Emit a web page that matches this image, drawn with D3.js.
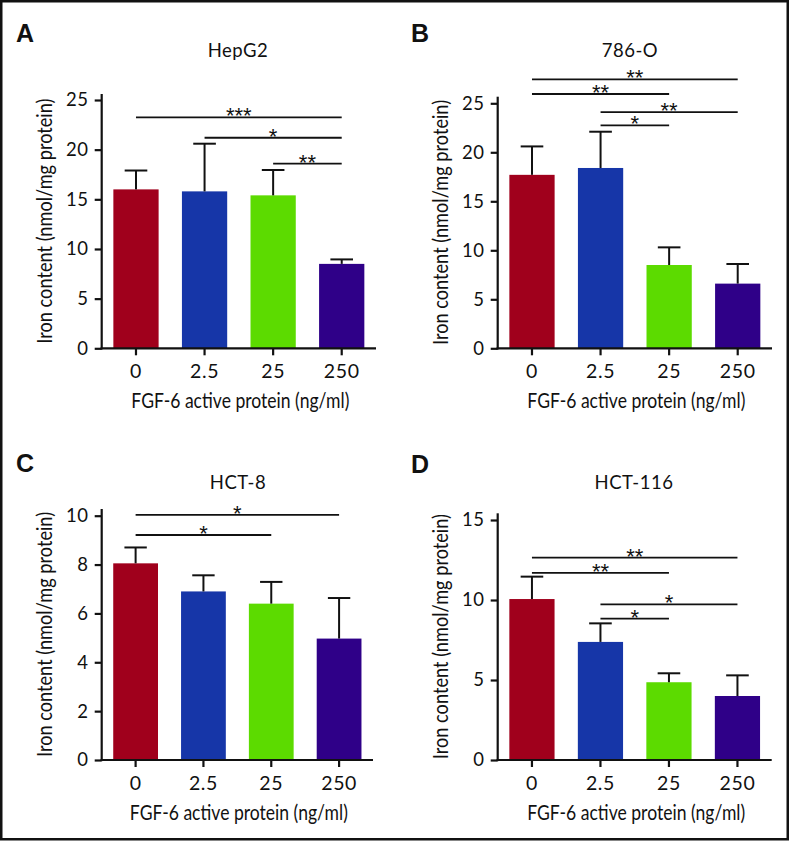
<!DOCTYPE html>
<html>
<head>
<meta charset="utf-8">
<script src="https://cdn.jsdelivr.net/npm/d3@7"></script>
<style>
  html, body { margin: 0; padding: 0; background: #fff; }
  svg { display: block; }
  text { font-family: Lato, "Open Sans", sans-serif; fill: #111; }
</style>
</head>
<body>
<svg id="chart" width="790" height="843"></svg>
<script>
// ---------- data ----------
const categories = ["0", "2.5", "25", "250"];
const barColors = ["#A0001C", "#1636A8", "#5CDB00", "#2F0088"];

const hepg2Mean = [16.0, 15.8, 15.4, 8.5];
const hepg2SD   = [1.9, 4.8, 2.55, 0.45];
const hepg2Ticks = [0, 5, 10, 15, 20, 25];
const hepg2Sig = [
  { from: 0, to: 3, y: 23.25, label: "***" },
  { from: 1, to: 3, y: 21.2,  label: "*" },
  { from: 2, to: 3, y: 18.6,  label: "**" }
];

const r786Mean = [17.7, 18.4, 8.5, 6.6];
const r786SD   = [2.9, 3.7, 1.8, 2.0];
const r786Ticks = [0, 5, 10, 15, 20, 25];
const r786Sig = [
  { from: 0, to: 3, y: 27.45, label: "**" },
  { from: 0, to: 2, y: 25.95, label: "**" },
  { from: 1, to: 3, y: 24.1,  label: "**" },
  { from: 1, to: 2, y: 22.75, label: "*" }
];

const hct8Mean = [8.05, 6.9, 6.4, 4.97];
const hct8SD   = [0.65, 0.66, 0.89, 1.66];
const hct8Ticks = [0, 2, 4, 6, 8, 10];
const hct8Sig = [
  { from: 0, to: 3, y: 10.03, label: "*" },
  { from: 0, to: 2, y: 9.21,  label: "*" }
];

const hct116Mean = [10.06, 7.38, 4.86, 4.0];
const hct116SD   = [1.4, 1.16, 0.56, 1.29];
const hct116Ticks = [0, 5, 10, 15];
const hct116Sig = [
  { from: 0, to: 3, y: 12.65, label: "**" },
  { from: 0, to: 2, y: 11.7,  label: "**" },
  { from: 1, to: 3, y: 9.73,  label: "*" },
  { from: 1, to: 2, y: 8.83,  label: "*" }
];

const xTitle = "FGF-6 active protein (ng/ml)";
const yTitle = "Iron content (nmol/mg protein)";

// ---------- layout ----------
const panels = [
  { letter: "A", title: "HepG2",  mean: hepg2Mean,  sd: hepg2SD,  ticks: hepg2Ticks,  sig: hepg2Sig,
    left: 101.7, right: 376, bottom: 348.3, topTick: 100,   axisTop: 94,
    letterX: 16, letterY: 42, titleX: 238, titleY: 57, xTitleY: 408, yTitleX: 52 },
  { letter: "B", title: "786-O",  mean: r786Mean,   sd: r786SD,   ticks: r786Ticks,   sig: r786Sig,
    left: 497.7, right: 772, bottom: 348.3, topTick: 103.3, axisTop: 96.7,
    letterX: 411, letterY: 42, titleX: 630, titleY: 57, xTitleY: 408, yTitleX: 448 },
  { letter: "C", title: "HCT-8",  mean: hct8Mean,   sd: hct8SD,   ticks: hct8Ticks,   sig: hct8Sig,
    left: 101.7, right: 373, bottom: 760, topTick: 515.7, axisTop: 509,
    letterX: 16, letterY: 472, titleX: 238, titleY: 489, xTitleY: 820, yTitleX: 52 },
  { letter: "D", title: "HCT-116", mean: hct116Mean, sd: hct116SD, ticks: hct116Ticks, sig: hct116Sig,
    left: 497.7, right: 771.7, bottom: 760, topTick: 520, axisTop: 513.3,
    letterX: 411, letterY: 473, titleX: 634, titleY: 489, xTitleY: 820, yTitleX: 448 }
];

const svg = d3.select("#chart");

// outer frame
svg.append("rect")
  .attr("x", 1.25).attr("y", 1.25)
  .attr("width", 786.5).attr("height", 838)
  .attr("fill", "none").attr("stroke", "#111").attr("stroke-width", 2.5);

panels.forEach(p => {
  const g = svg.append("g");
  const maxTick = d3.max(p.ticks);

  const x = d3.scaleBand().domain(categories)
    .range([p.left, p.right]).paddingInner(0.34).paddingOuter(0.17);
  const y = d3.scaleLinear().domain([0, maxTick]).range([p.bottom, p.topTick]);

  // panel letter
  g.append("text").attr("x", p.letterX).attr("y", p.letterY)
    .style("font-family", "'Liberation Sans', Arial, sans-serif")
    .style("font-weight", "bold").style("font-size", "25px")
    .text(p.letter);

  // title
  g.append("text").attr("x", p.titleX).attr("y", p.titleY)
    .attr("text-anchor", "middle").style("font-size", "18.5px")
    .style("letter-spacing", "0.5px")
    .text(p.title);

  // bars
  g.selectAll("rect.bar").data(p.mean).join("rect")
    .attr("class", "bar")
    .attr("x", (d, i) => x(categories[i]))
    .attr("width", x.bandwidth())
    .attr("y", d => y(d))
    .attr("height", d => y(0) - y(d))
    .attr("fill", (d, i) => barColors[i]);

  // error bars (upper only)
  const capW = x.bandwidth() * 0.5;
  p.mean.forEach((m, i) => {
    const cx = x(categories[i]) + x.bandwidth() / 2;
    g.append("line")
      .attr("x1", cx).attr("x2", cx)
      .attr("y1", y(m)).attr("y2", y(m + p.sd[i]))
      .attr("stroke", "#111").attr("stroke-width", 2);
    g.append("line")
      .attr("x1", cx - capW / 2).attr("x2", cx + capW / 2)
      .attr("y1", y(m + p.sd[i])).attr("y2", y(m + p.sd[i]))
      .attr("stroke", "#111").attr("stroke-width", 2);
  });

  // y axis
  const yAxis = g.append("g")
    .attr("transform", `translate(${p.left},0)`)
    .call(d3.axisLeft(y).tickValues(p.ticks).tickSize(7).tickPadding(6).tickSizeOuter(0));
  yAxis.select(".domain").remove();
  yAxis.selectAll(".tick line").attr("stroke", "#111").attr("stroke-width", 2.2);
  yAxis.selectAll(".tick text")
    .style("font-family", "Lato, sans-serif")
    .style("font-size", "18.5px").style("letter-spacing", "0.6px").attr("fill", "#111");
  g.append("line")
    .attr("x1", p.left).attr("x2", p.left)
    .attr("y1", p.axisTop).attr("y2", p.bottom + 1.1)
    .attr("stroke", "#111").attr("stroke-width", 2.2);

  // x axis
  const xAxis = g.append("g")
    .attr("transform", `translate(0,${p.bottom})`)
    .call(d3.axisBottom(x).tickSize(7).tickPadding(9).tickSizeOuter(0));
  xAxis.select(".domain").remove();
  xAxis.selectAll(".tick line").attr("stroke", "#111").attr("stroke-width", 2.2);
  xAxis.selectAll(".tick text")
    .style("font-family", "Lato, sans-serif")
    .style("font-size", "19.5px").style("letter-spacing", "0.6px").attr("fill", "#111");
  g.append("line")
    .attr("x1", p.left - 1.1).attr("x2", p.right)
    .attr("y1", p.bottom).attr("y2", p.bottom)
    .attr("stroke", "#111").attr("stroke-width", 2.2);

  // axis titles
  g.append("text")
    .attr("x", (p.left + p.right) / 2 + 1.5).attr("y", p.xTitleY)
    .attr("text-anchor", "middle")
    .attr("textLength", 218).attr("lengthAdjust", "spacingAndGlyphs")
    .style("font-size", "21px")
    .text(xTitle);
  g.append("text")
    .attr("transform", `translate(${p.yTitleX},${(p.axisTop + p.bottom) / 2}) rotate(-90)`)
    .attr("text-anchor", "middle")
    .attr("textLength", 245).attr("lengthAdjust", "spacingAndGlyphs")
    .style("font-size", "20.5px")
    .text(yTitle);

  // significance brackets
  p.sig.forEach(s => {
    const x1 = x(categories[s.from]) + x.bandwidth() / 2;
    const x2 = x(categories[s.to]) + x.bandwidth() / 2;
    const yy = y(s.y);
    g.append("line")
      .attr("x1", x1).attr("x2", x2).attr("y1", yy).attr("y2", yy)
      .attr("stroke", "#111").attr("stroke-width", 1.8);
    g.append("text")
      .attr("x", (x1 + x2) / 2).attr("y", yy + 6)
      .attr("text-anchor", "middle")
      .style("font-family", "'Liberation Sans', Arial, sans-serif")
      .style("font-size", "22px")
      .text(s.label);
  });
});
</script>
</body>
</html>
